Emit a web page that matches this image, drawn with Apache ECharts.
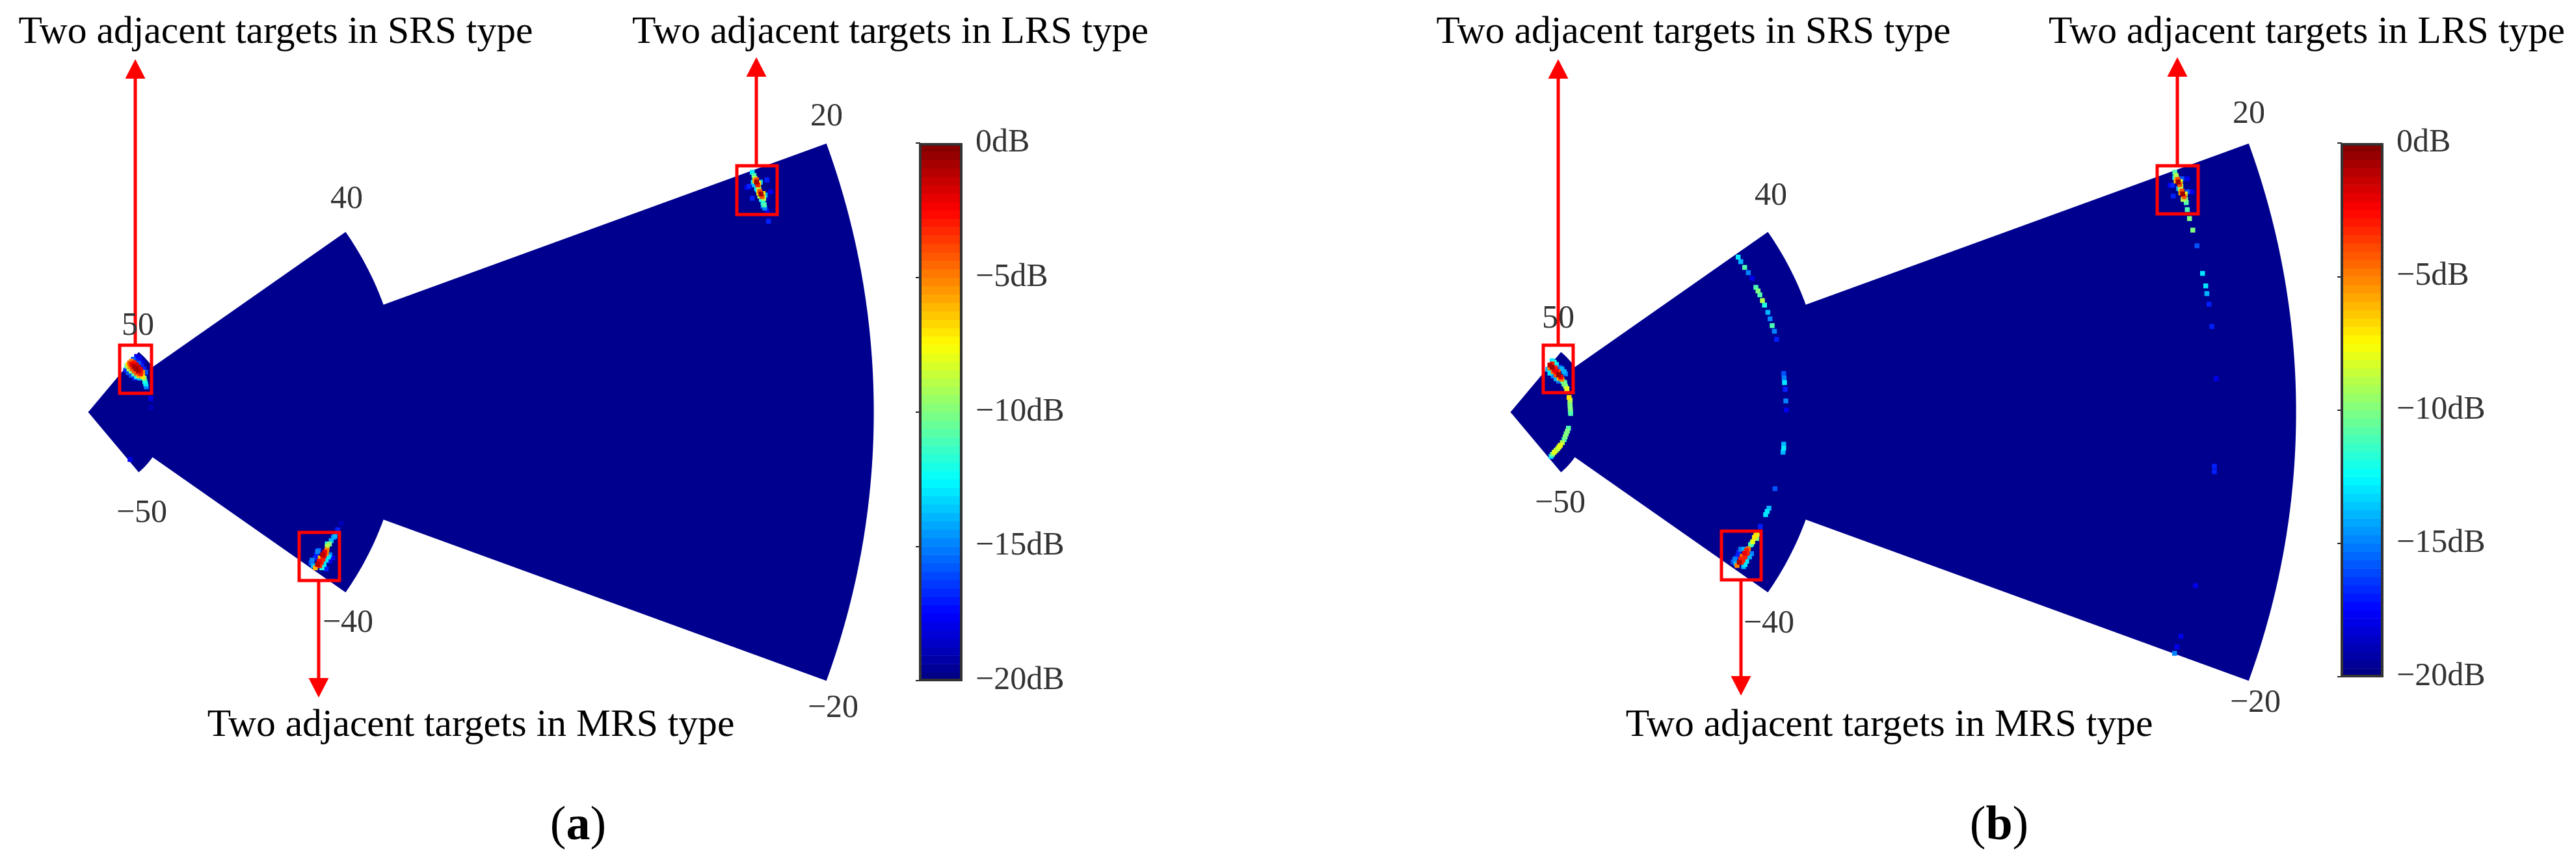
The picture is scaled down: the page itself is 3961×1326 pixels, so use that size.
<!DOCTYPE html>
<html>
<head>
<meta charset="utf-8">
<style>
  html, body { margin: 0; padding: 0; background: #fff; }
  #chart { width: 3961px; height: 1326px; }
</style>
<script src="https://cdn.jsdelivr.net/npm/echarts@6/dist/echarts.min.js"></script>
</head>
<body>
<div id="chart"></div>
<script>
// radar coverage: range, half angle (drawn angle, the tick text says 40 for the middle one)
const sectorRanges = [100, 40, 10];
const sectorAngles = [20, 35, 50];
const cbTicks = [0, -5, -10, -15, -20];

// [x, y, dB]
const hotA = [
  [5.28,6.26,-4],[5.55,6.07,-2],[5.83,5.79,-1],[6.10,5.52,-0.5],[6.38,5.24,-1],[6.66,4.88,-3],[6.93,4.52,-7],
  [5.50,6.48,-5],[5.83,6.29,-3],[6.10,6.02,-2],[6.38,5.74,-1.5],[6.66,5.41,-2],[6.93,5.08,-5],
  [5.06,6.04,-7],[5.33,5.79,-5],[5.61,5.52,-4],[5.88,5.24,-4],[6.16,4.97,-4],[6.44,4.66,-6],
  [4.92,5.85,-11],[5.19,5.52,-9],[5.47,5.24,-10],[5.83,4.88,-11],[6.16,4.52,-12],[6.57,4.33,-14],
  [5.75,6.73,-16],[6.10,6.51,-17],[6.44,6.24,-16],[6.77,5.90,-17],[7.10,5.52,-17],[7.32,5.08,-16],
  [6.16,7.09,-18],[6.57,6.82,-18],[6.93,6.35,-18.5],
  [4.78,5.35,-17],[5.11,5.02,-16],[5.50,4.69,-16],[5.94,4.33,-17],
  [7.13,4.33,-10],[7.21,3.92,-12],[7.32,3.59,-13],[7.40,3.23,-15],[7.98,1.74,-18],[7.98,0.58,-19],[5.33,-6.02,-18],
  [28.92,-19.82,-6],[29.20,-19.40,-1],[29.39,-18.99,-2],[29.55,-18.57,-6],[29.83,-18.16,-1],[30.11,-17.83,-2],[30.38,-17.55,-5],
  [29.47,-19.54,-3],[29.67,-19.13,-3],[29.89,-18.71,-3],[30.02,-18.30,-2],[30.30,-18.02,-5],
  [29.75,-19.82,-12],[30.02,-19.40,-13],[30.30,-18.85,-13],[30.58,-18.44,-13],[30.77,-18.16,-15],
  [28.51,-18.85,-15],[28.37,-19.21,-16],[28.64,-19.54,-14],[29.20,-17.75,-15],[29.06,-18.16,-17],[28.92,-18.57,-17],[29.33,-17.61,-16],
  [30.44,-17.06,-9],[30.71,-16.78,-10],[30.44,-16.78,-12],[30.93,-16.37,-14],[31.21,-15.95,-15],[31.40,-15.81,-14],
  [30.30,-19.95,-17],[30.71,-18.99,-18],[31.13,-18.57,-18],[31.75,-14.98,-17],[32.20,-14.16,-19],
  [84.53,30.54,-13],[84.75,30.13,-11],[85.08,29.30,-0.5],[85.08,29.58,-4],[85.22,28.94,-3],[84.86,29.44,-6],[85.36,29.16,-7],
  [84.86,29.77,-9],[85.30,28.75,-9],[84.67,29.30,-13],[85.58,29.30,-14],[84.80,28.94,-14],[85.36,28.39,-9],[85.08,28.47,-13],
  [85.63,27.78,-0.5],[85.49,28.11,-4],[85.77,27.45,-4],[85.36,27.92,-7],[85.91,27.84,-7],[85.49,27.51,-9],[85.99,27.23,-9],
  [85.22,28.28,-13],[86.18,27.64,-14],[85.69,27.09,-12],[85.91,26.68,-12],[86.05,26.40,-11],[86.13,25.99,-15],[85.91,26.26,-15],
  [84.11,28.75,-17],[86.40,29.58,-17],[84.53,27.23,-17],[86.87,28.06,-18],[83.84,28.61,-18],[86.46,27.23,-19],[86.42,25.58,-18],[86.60,24.30,-17]
];

// [x, y, dB], peaks and the sidelobe arcs at each range
const hotB = [
  [5.02,5.99,-1],[5.30,5.71,-0.5],[5.58,5.35,-2],[5.85,5.16,-2],[6.13,4.75,-0.5],[6.40,4.47,-2],[6.54,4.19,-5],
  [5.30,6.13,-3],[5.71,5.63,-3],[6.07,5.16,-4],[5.02,5.63,-5],[5.44,5.16,-5],[5.80,4.75,-4],[6.18,4.33,-6],
  [5.30,6.54,-13],[5.58,6.35,-12],[5.85,6.07,-13],[6.27,5.71,-16],[6.54,5.52,-14],[6.82,5.16,-14],[7.01,4.88,-15],
  [4.75,5.44,-14],[5.02,4.97,-13],[5.44,4.61,-15],[5.80,4.25,-14],[6.13,3.97,-15],
  [6.68,3.92,-11],[6.82,3.59,-10],[7.01,3.31,-10],[7.18,2.95,-8],[6.90,3.76,-11],[7.18,3.01,-9],[7.46,1.87,-7],
  [7.59,1.52,-9],[7.57,1.14,-10],[7.59,0.77,-10],[7.62,0.41,-10],[7.62,0.12,-11],[7.65,-0.17,-11],
  [7.38,-2.05,-11],[7.24,-2.43,-10],[7.09,-2.77,-10],[6.96,-3.15,-10],[6.82,-3.50,-11],[6.60,-3.89,-9],[6.35,-4.22,-8],
  [6.18,-4.43,-8],[6.00,-4.67,-9],[5.80,-4.88,-9],[5.58,-5.10,-8],[5.36,-5.36,-10],[5.17,-5.63,-13],
  [28.84,-19.53,-5],[29.12,-19.12,-1],[29.31,-18.71,-3],[29.51,-18.35,-5],[29.78,-17.96,-2],[30.06,-17.60,-3],[30.28,-17.41,-5],
  [29.39,-19.12,-3],[29.59,-18.84,-3],[29.86,-18.43,-3],[30.14,-17.96,-3],
  [29.86,-19.40,-13],[30.06,-18.98,-13],[30.42,-18.43,-14],[30.69,-18.02,-15],[29.67,-19.67,-14],
  [28.57,-18.71,-15],[28.35,-19.06,-16],[28.68,-19.26,-14],[29.31,-17.46,-15],[29.04,-17.88,-17],[28.84,-18.43,-17],[29.73,-17.46,-14],
  [30.55,-16.91,-11],[30.83,-16.50,-8],[31.05,-15.95,-7],[31.24,-15.67,-7],[31.33,-16.08,-10],[30.69,-16.77,-12],[31.44,-15.53,-9],
  [28.98,19.74,-13],[29.31,19.16,-14],[29.81,18.43,-11],[30.27,17.76,-15],[30.75,17.05,-18],[31.24,15.89,-11],[31.51,15.44,-10],
  [31.74,14.94,-11],[32.07,14.21,-9],[32.34,13.63,-12],[32.76,12.71,-14],[33.04,11.89,-15],[33.31,11.02,-11],[33.59,10.30,-15],[33.87,9.27,-17],
  [34.78,4.92,-16],[34.83,4.34,-15],[34.88,3.76,-13],[34.97,2.90,-17],[35.05,1.43,-15],[35.11,0.27,-18],
  [34.78,-4.08,-14],[34.78,-4.60,-13],[34.69,-5.10,-14],[33.67,-9.75,-16],[32.90,-12.23,-14],[32.67,-12.64,-13],[32.48,-13.05,-13],[31.80,-14.57,-17],
  [84.56,30.55,-11],[84.72,30.13,-9],[85.00,29.31,-0.5],[84.92,29.64,-4],[85.19,28.98,-4],[84.72,29.44,-6],[85.27,29.36,-8],[84.78,29.86,-9],
  [84.56,29.86,-13],[85.33,28.75,-9],[85.47,29.72,-16],[84.28,28.89,-17],[83.95,28.89,-18],[86.16,29.72,-18],
  [85.55,27.79,-0.5],[85.47,28.15,-4],[85.74,27.43,-4],[85.33,27.93,-6],[85.88,27.79,-8],[85.27,28.42,-9],[85.61,27.10,-9],[85.94,27.10,-10],
  [86.02,26.68,-11],[85.05,28.48,-14],[86.16,28.06,-16],[84.36,27.51,-17],[86.71,28.06,-18],
  [86.15,25.79,-11],[86.43,24.65,-10],[86.85,23.18,-10],[87.39,21.19,-16],[88.09,17.67,-13],[88.50,16.08,-13],[88.64,15.10,-14],[88.92,13.74,-17],
  [89.27,10.90,-17],[89.83,4.27,-18],[89.60,-6.90,-17],[89.60,-7.58,-17],[87.20,-22.10,-18],[85.33,-28.55,-18],[84.83,-29.90,-18],[84.53,-30.71,-15]
];

const SERIF = 'Liberation Serif';
const SECTOR_COLOR = '#00008f';

function jet(t) {
  const c = x => Math.round(255 * Math.max(0, Math.min(1, x)));
  return 'rgb(' + c(1.5 - Math.abs(4 * t - 3)) + ',' + c(1.5 - Math.abs(4 * t - 2)) + ',' + c(1.5 - Math.abs(4 * t - 1)) + ')';
}

const jetColors = [];
for (let i = 0; i < 64; i++) jetColors.push(jet((i + 0.5) / 64));

const sectorData = sectorRanges.map((r, i) => [r, sectorAngles[i]]);
const byValue = (a, b) => a[2] - b[2];
const levels = jetColors.map((c, i) => [i]);

function renderSector(params, api) {
  const r = api.value(0);
  const a = api.value(1);
  const pts = [api.coord([0, 0])];
  for (let d = -a; d <= a + 0.001; d += 0.5) {
    const th = d * Math.PI / 180;
    pts.push(api.coord([r * Math.cos(th), r * Math.sin(th)]));
  }
  return { type: 'polygon', shape: { points: pts }, style: { fill: SECTOR_COLOR } };
}

function renderLevel(params, api) {
  const i = api.value(0);
  const x0 = params.coordSys.x;
  const w = params.coordSys.width;
  const top = api.coord([0, -20 + (i + 1) * 20 / 64])[1];
  const bot = api.coord([0, -20 + i * 20 / 64])[1];
  return { type: 'rect', shape: { x: x0, y: top, width: w, height: bot - top + 0.6 }, style: { fill: jetColors[i] } };
}

function panelAxes(left, bar) {
  return {
    grid: [
      { left: left, top: 30, width: 1268.4, height: 1208 },
      { left: bar.left, top: bar.top, width: bar.width, height: bar.height }
    ],
    x: [
      { gridIndex: 0, type: 'value', min: 0, max: 105, show: false },
      { gridIndex: 1, type: 'value', min: 0, max: 1, show: false }
    ],
    y: [
      { gridIndex: 0, type: 'value', min: -50, max: 50, show: false },
      {
        gridIndex: 1, type: 'value', min: -20, max: 0, interval: 5, position: 'right',
        splitLine: { show: false },
        axisLine: { show: false },
        axisTick: { show: true, inside: true, length: 7, lineStyle: { color: '#222', width: 2 } },
        axisLabel: {
          margin: 22, fontFamily: SERIF, fontSize: 50, color: '#333',
          customValues: cbTicks,
          formatter: v => String(v).replace('-', '\u2212') + 'dB'
        }
      }
    ]
  };
}

const barA = { left: 1415, top: 220, width: 63, height: 827 };
const barB = { left: 3601, top: 220, width: 62, height: 821 };
const pa = panelAxes(135.6, barA);
const pb = panelAxes(2322.6, barB);

function shift(list, n) {
  return list.map(o => {
    const c = Object.assign({}, o);
    c.gridIndex = o.gridIndex + n;
    return c;
  });
}

function panelSeries(n, hot) {
  return [
    { type: 'custom', xAxisIndex: n, yAxisIndex: n, data: sectorData, renderItem: renderSector, silent: true, z: 1, encode: { x: 0, y: 1 }, clip: false },
    { type: 'scatter', xAxisIndex: n, yAxisIndex: n, data: hot.slice().sort(byValue), symbol: 'rect', symbolSize: 7.5, z: 2, clip: false, itemStyle: { opacity: 1 } },
    { type: 'custom', xAxisIndex: n + 1, yAxisIndex: n + 1, data: levels, renderItem: renderLevel, silent: true, z: 1, encode: { x: 0 } }
  ];
}

function label(txt, x, y, size, color) {
  return {
    type: 'text', z: 20, x: x, y: y,
    style: { text: txt, font: size + 'px "' + SERIF + '"', fill: color, textAlign: 'center', textVerticalAlign: 'middle' }
  };
}

function box(x0, y0, x1, y1) {
  return { type: 'rect', z: 20, shape: { x: x0, y: y0, width: x1 - x0, height: y1 - y0 }, style: { fill: 'none', stroke: '#f00', lineWidth: 5 } };
}

function arrow(x, y0, tip) {
  const dir = tip < y0 ? 1 : -1;
  return [
    { type: 'line', z: 20, shape: { x1: x, y1: y0, x2: x, y2: tip + dir * 20 }, style: { stroke: '#f00', lineWidth: 5 } },
    { type: 'polygon', z: 20, shape: { points: [[x, tip], [x - 15.5, tip + dir * 30], [x + 15.5, tip + dir * 30]] }, style: { fill: '#f00' } }
  ];
}

function barFrame(b) {
  return { type: 'rect', z: 20, shape: { x: b.left, y: b.top + 2, width: b.width, height: b.height - 3 }, style: { fill: 'none', stroke: '#333', lineWidth: 4 } };
}

function caption(letter, x, y) {
  return {
    type: 'text', z: 20, x: x, y: y,
    style: {
      text: '({b|' + letter + '})', font: '74px "' + SERIF + '"', fill: '#000', textAlign: 'center', textVerticalAlign: 'middle',
      rich: { b: { font: 'bold 74px "' + SERIF + '"', fill: '#000' } }
    }
  };
}

const graphics = [
  barFrame(barA), barFrame(barB),
  box(184, 531, 233, 605), box(460, 819, 522, 893), box(1133, 255, 1195, 330),
  box(2373, 531, 2419, 604), box(2647, 817, 2708, 892), box(3317, 255, 3380, 329),
  ...arrow(208, 531, 91), ...arrow(490, 893, 1073), ...arrow(1163, 255, 88),
  ...arrow(2396, 531, 91), ...arrow(2677, 892, 1070), ...arrow(3348, 255, 88),
  label('Two adjacent targets in SRS type', 424, 50, 59.6, '#000'),
  label('Two adjacent targets in LRS type', 1369, 50, 59.6, '#000'),
  label('Two adjacent targets in MRS type', 724, 1116, 59.6, '#000'),
  label('Two adjacent targets in SRS type', 2604, 50, 59.6, '#000'),
  label('Two adjacent targets in LRS type', 3547, 50, 59.6, '#000'),
  label('Two adjacent targets in MRS type', 2905, 1116, 59.6, '#000'),
  label('20', 1271, 180, 50, '#333'), label('40', 533, 307, 50, '#333'), label('50', 212, 502, 50, '#333'),
  label('\u221250', 218, 790, 50, '#333'), label('\u221240', 535, 959, 50, '#333'), label('\u221220', 1281, 1090, 50, '#333'),
  label('20', 3458, 176, 50, '#333'), label('40', 2723, 302, 50, '#333'), label('50', 2396, 491, 50, '#333'),
  label('\u221250', 2399, 775, 50, '#333'), label('\u221240', 2720, 960, 50, '#333'), label('\u221220', 3468, 1082, 50, '#333'),
  caption('a', 889, 1272), caption('b', 3074, 1272)
];

const chart = echarts.init(document.getElementById('chart'));
chart.setOption({
  animation: false,
  backgroundColor: '#fff',
  grid: pa.grid.concat(pb.grid),
  xAxis: pa.x.concat(shift(pb.x, 2)),
  yAxis: pa.y.concat(shift(pb.y, 2)),
  visualMap: {
    show: false, type: 'continuous', min: -20, max: 0, dimension: 2,
    seriesIndex: [1, 4],
    inRange: { color: jetColors }
  },
  series: panelSeries(0, hotA).concat(panelSeries(2, hotB)),
  graphic: graphics
});
</script>
</body>
</html>
